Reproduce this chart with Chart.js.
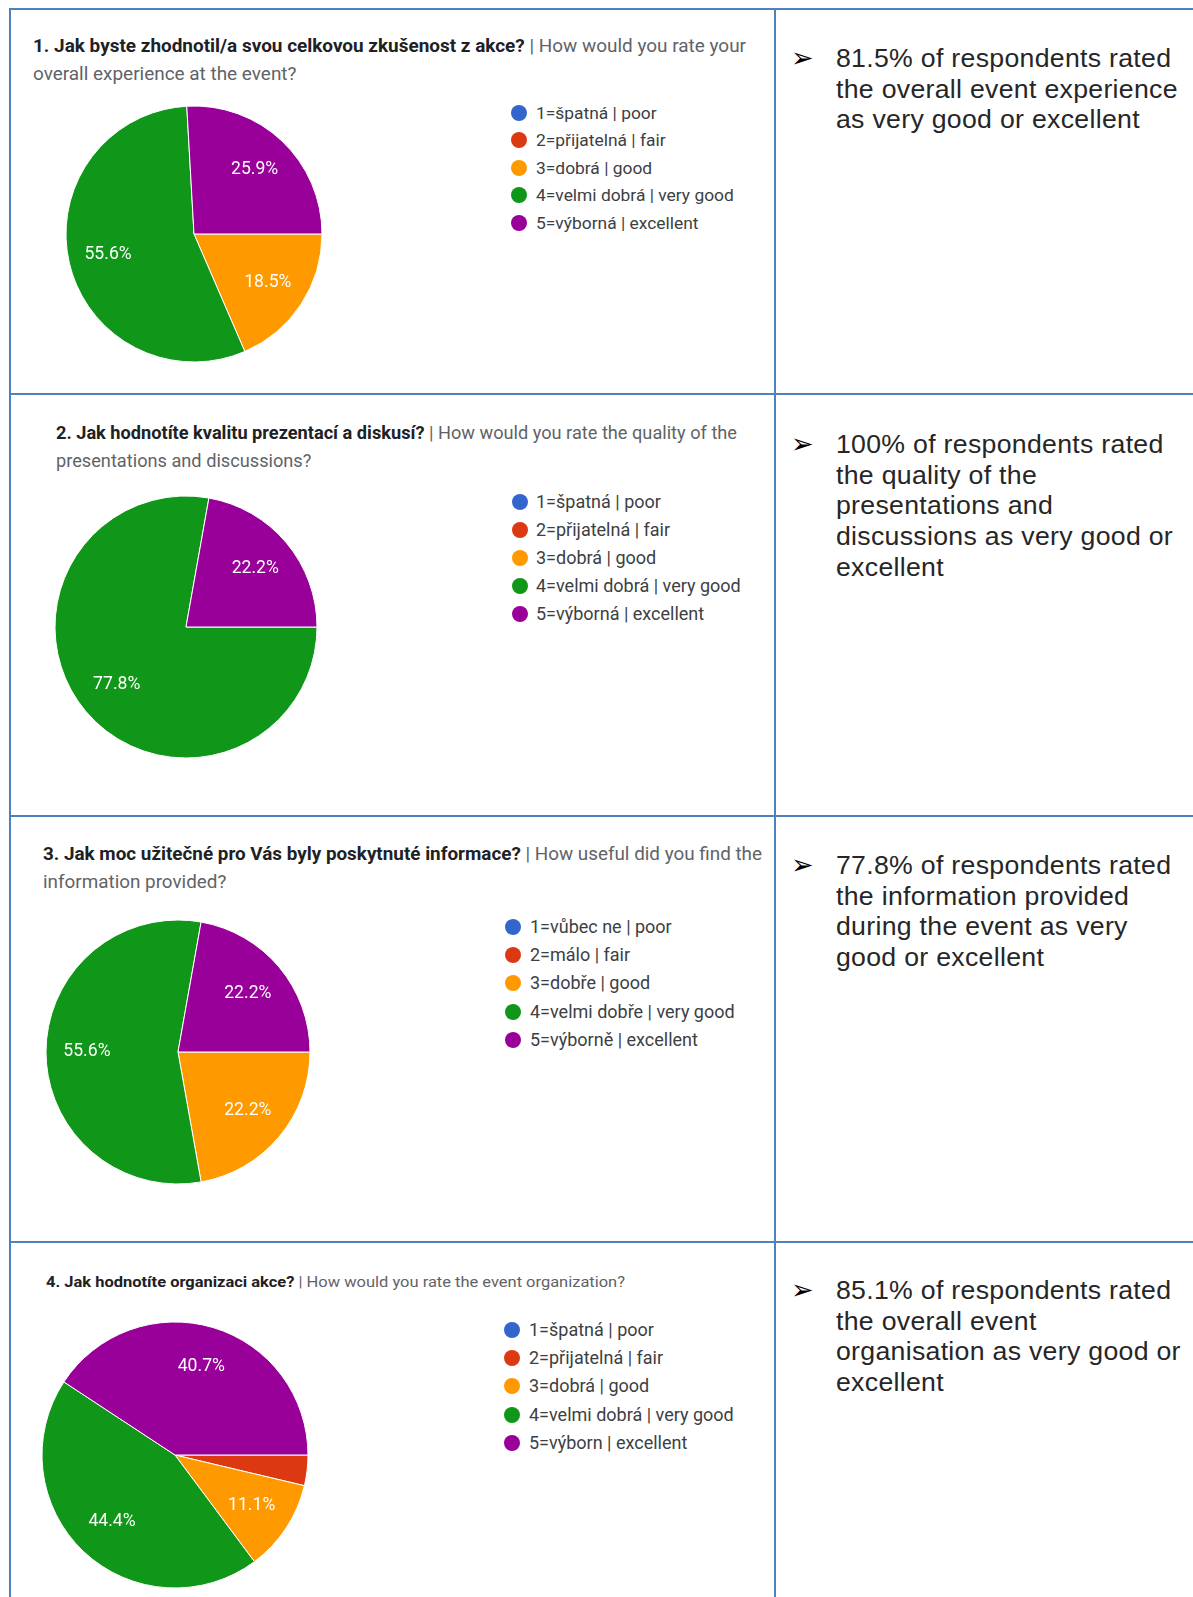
<!DOCTYPE html>
<html><head><meta charset="utf-8">
<script src="https://cdn.jsdelivr.net/npm/chart.js@4.4.1/dist/chart.umd.min.js"></script>
<style>
html,body{margin:0;padding:0}
body{width:1193px;height:1597px;position:relative;background:#fff;overflow:hidden;font-family:Roboto,"Noto Sans",sans-serif}
.hl,.vl{position:absolute;background:#4f81bd}
.hl{height:2px;left:9px;right:0}
.vl{width:2px;top:8px;bottom:0}
.title{position:absolute;white-space:nowrap;font-size:17.5px;line-height:28px;color:#5f6368;transform-origin:0 50%}
.title b{color:#202124;font-weight:700}
.li{position:absolute;white-space:nowrap;font-size:18px;line-height:22px;color:#3c4043;transform-origin:0 50%}
.dot{position:absolute;width:16px;height:16px;border-radius:50%}
.note{position:absolute;left:836px;font-family:"Liberation Sans",Arial,sans-serif;font-size:26.67px;line-height:30.67px;color:#262626;letter-spacing:0.3px;white-space:nowrap}
.arrow{position:absolute;left:791px;font-family:"DejaVu Sans",sans-serif;font-size:27px;line-height:30.67px;color:#000}
canvas{position:absolute}
</style></head>
<body>
<div class="hl" style="top:8px"></div>
<div class="hl" style="top:393px"></div>
<div class="hl" style="top:815px"></div>
<div class="hl" style="top:1241px"></div>
<div class="vl" style="left:9px"></div>
<div class="vl" style="left:774px"></div>
<div id="root"></div>
<script>
// ---- data ----
const categoriesA = ['1=špatná | poor','2=přijatelná | fair','3=dobrá | good','4=velmi dobrá | very good','5=výborná | excellent'];
const categoriesB = ['1=vůbec ne | poor','2=málo | fair','3=dobře | good','4=velmi dobře | very good','5=výborně | excellent'];
const categoriesC = ['1=špatná | poor','2=přijatelná | fair','3=dobrá | good','4=velmi dobrá | very good','5=výborn | excellent'];
const q1Values = [0, 0, 18.5, 55.6, 25.9];
const q2Values = [0, 0, 0, 77.8, 22.2];
const q3Values = [0, 0, 22.2, 55.6, 22.2];
const q4Values = [0, 3.7, 11.1, 44.4, 40.7];
const q1TitleBold = ['1. Jak byste zhodnotil/a svou celkovou zkušenost z akce?', ''];
const q1TitleRest = [' | How would you rate your', 'overall experience at the event?'];
const q2TitleBold = ['2. Jak hodnotíte kvalitu prezentací a diskusí?', ''];
const q2TitleRest = [' | How would you rate the quality of the', 'presentations and discussions?'];
const q3TitleBold = ['3. Jak moc užitečné pro Vás byly poskytnuté informace?', ''];
const q3TitleRest = [' | How useful did you find the', 'information provided?'];
const q4TitleBold = ['4. Jak hodnotíte organizaci akce?'];
const q4TitleRest = [' | How would you rate the event organization?'];
const note1 = ['81.5% of respondents rated','the overall event experience','as very good or excellent'];
const note2 = ['100% of respondents rated','the quality of the','presentations and','discussions as very good or','excellent'];
const note3 = ['77.8% of respondents rated','the information provided','during the event as very','good or excellent'];
const note4 = ['85.1% of respondents rated','the overall event','organisation as very good or','excellent'];

// ---- styling / layout ----
const palette = ['#3366cc','#dc3912','#ff9900','#109618','#990099'];
const root = document.getElementById('root');

const pctLabels = {
  id: 'pctLabels',
  afterDatasetsDraw(chart) {
    const ctx = chart.ctx;
    const meta = chart.getDatasetMeta(0);
    const vals = chart.data.datasets[0].data;
    ctx.save();
    ctx.fillStyle = '#ffffff';
    ctx.font = '17.6px Roboto';
    ctx.textAlign = 'center';
    ctx.textBaseline = 'middle';
    meta.data.forEach((arc, i) => {
      if (vals[i] < 5) return;
      const p = arc.getProps(['x','y','startAngle','endAngle','outerRadius'], true);
      const a = (p.startAngle + p.endAngle) / 2;
      const r = p.outerRadius * 0.69;
      ctx.fillText(vals[i].toFixed(1) + '%', p.x + Math.cos(a) * r, p.y + Math.sin(a) * r);
    });
    ctx.restore();
  }
};

function addTitle(bold, rest, x, y0, fs, widths) {
  let scale = null;
  bold.forEach((b, i) => {
    const d = document.createElement('div');
    d.className = 'title';
    d.style.left = x + 'px';
    d.style.top = (y0 + i * 28 - 14) + 'px';
    d.style.fontSize = fs + 'px';
    d.innerHTML = (b ? '<b>' + b + '</b>' : '') + rest[i];
    root.appendChild(d);
    if (widths[i]) {
      const w = d.getBoundingClientRect().width;
      scale = widths[i] / w;
    }
    if (scale) d.style.transform = 'scaleX(' + scale + ')';
  });
}

function addLegend(labels, dotX, textX, y0, step, fs) {
  labels.forEach((t, i) => {
    const cy = y0 + i * step;
    const dot = document.createElement('div');
    dot.className = 'dot';
    dot.style.left = (dotX - 8) + 'px';
    dot.style.top = (cy - 8) + 'px';
    dot.style.background = palette[i];
    root.appendChild(dot);
    const d = document.createElement('div');
    d.className = 'li';
    d.style.left = textX + 'px';
    d.style.top = (cy - 11) + 'px';
    d.style.fontSize = fs + 'px';
    d.textContent = t;
    root.appendChild(d);
  });
}

function addPie(labels, values, cx, cy, r) {
  const size = 2 * r + 20;
  const c = document.createElement('canvas');
  c.width = size; c.height = size;
  c.style.left = (cx - size / 2) + 'px';
  c.style.top = (cy - size / 2) + 'px';
  c.style.width = size + 'px'; c.style.height = size + 'px';
  root.appendChild(c);
  new Chart(c, {
    type: 'pie',
    data: { labels: labels, datasets: [{ data: values, backgroundColor: palette, borderColor: '#ffffff', borderWidth: 1, radius: r }] },
    options: {
      responsive: false, animation: false, rotation: 90,
      layout: { padding: 0 },
      plugins: { legend: { display: false }, tooltip: { enabled: false } }
    },
    plugins: [pctLabels]
  });
}

function addNote(lines, top) {
  const a = document.createElement('div');
  a.className = 'arrow';
  a.style.top = top + 'px';
  a.textContent = '➢';
  root.appendChild(a);
  const d = document.createElement('div');
  d.className = 'note';
  d.style.top = top + 'px';
  d.innerHTML = lines.join('<br>');
  root.appendChild(d);
}

addTitle(q1TitleBold, q1TitleRest, 33, 46, 17.5, [713, 0]);
addTitle(q2TitleBold, q2TitleRest, 56, 433, 17.5, [681, 0]);
addTitle(q3TitleBold, q3TitleRest, 43, 854, 17.5, [719, 0]);
addTitle(q4TitleBold, q4TitleRest, 46, 1282, 15.5, [579]);

addLegend(categoriesA, 519, 536, 113, 27.4, 17.4);
addLegend(categoriesA, 520, 536, 502, 28, 18);
addLegend(categoriesB, 513, 530, 927, 28.2, 18);
addLegend(categoriesC, 512, 529, 1330, 28.2, 18);

addPie(categoriesA, q1Values, 194, 234, 128);
addPie(categoriesA, q2Values, 186, 627, 131);
addPie(categoriesB, q3Values, 178, 1052, 132);
addPie(categoriesC, q4Values, 175, 1455, 133);

addNote(note1, 43);
addNote(note2, 429);
addNote(note3, 850);
addNote(note4, 1275);
</script>
</body></html>
